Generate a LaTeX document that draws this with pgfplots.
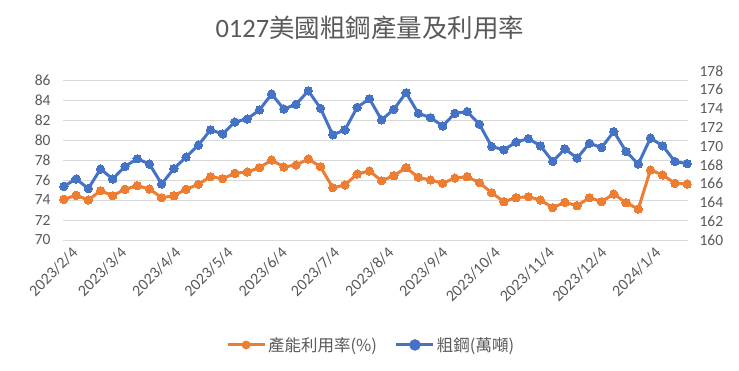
\documentclass[border=0pt]{standalone}
\usepackage{fontspec}
\setmainfont{Carlito}
\newfontfamily\cjk{Noto Sans CJK TC}
\usepackage{pgfplots}
\pgfplotsset{compat=1.18}
\definecolor{cOr}{HTML}{ED7D31}
\definecolor{cBl}{HTML}{4472C4}
\definecolor{cTx}{HTML}{595959}
\definecolor{cGr}{HTML}{D9D9D9}
\begin{document}
\begin{tikzpicture}[x=1pt,y=1pt]
\useasboundingbox (-63,-130) rectangle (676,240);
\begin{axis}[
  at={(0,0)}, anchor=south west,
  scale only axis, width=625pt, height=169pt,
  xmin=-0.5, xmax=357.5,
  ymin=70, ymax=86.9,
  ytick={70,72,...,86},
  xtick={0,28,59,89,120,150,181,212,242,273,303,334},
  xticklabels={2023/2/4,2023/3/4,2023/4/4,2023/5/4,2023/6/4,2023/7/4,2023/8/4,2023/9/4,2023/10/4,2023/11/4,2023/12/4,2024/1/4},
  xticklabel style={rotate=45, anchor=east, xshift=4pt, yshift=-15pt, font=\fontsize{16}{19}\selectfont},
  yticklabel style={xshift=-9pt},
  /pgf/number format/assume math mode=true,
  tick label style={font=\fontsize{15.5}{18}\selectfont, text=cTx},
  major tick length=0pt,
  axis line style={draw=none},
  ymajorgrids, grid style={cGr, line width=0.8pt},
  title={{\fontsize{26.5}{30}\selectfont 0127}{\cjk\fontsize{25.5}{30}\selectfont 美國粗鋼產量及利用率}},
  title style={at={(0.491,1.22)}, anchor=center, text=cTx},
]
\addplot[cOr, line width=3pt, mark=*, mark size=4.2pt, mark options={fill=cOr, draw=cOr, line width=0pt}] coordinates {
(0,74.07)(7,74.47)(14,74.0)(21,74.93)(28,74.43)(35,75.07)(42,75.43)(49,75.1)(56,74.23)(63,74.43)
(70,75.07)(77,75.57)(84,76.33)(91,76.13)(98,76.67)(105,76.8)(112,77.23)(119,78.0)(126,77.3)(133,77.5)
(140,78.1)(147,77.33)(154,75.23)(161,75.5)(168,76.6)(175,76.9)(182,75.93)(189,76.43)(196,77.23)(203,76.27)
(210,76.0)(217,75.67)(224,76.2)(231,76.33)(238,75.73)(245,74.73)(252,73.83)(259,74.23)(266,74.33)(273,74.0)
(280,73.23)(287,73.77)(294,73.43)(301,74.23)(308,73.83)(315,74.6)(322,73.73)(329,73.1)(336,77.0)(343,76.5)
(350,75.67)(357,75.6)
};
\end{axis}
\begin{axis}[
  at={(0,0)}, anchor=south west,
  scale only axis, width=625pt, height=169pt,
  xmin=-0.5, xmax=357.5,
  ymin=160, ymax=178,
  ytick={160,162,...,178},
  hide x axis,
  axis y line*=right,
  axis line style={draw=none},
  major tick length=0pt,
  yticklabel style={xshift=8pt, anchor=west},
  /pgf/number format/assume math mode=true,
  tick label style={font=\fontsize{15.5}{18}\selectfont, text=cTx},
  legend style={at={(0.493,-0.621)}, anchor=center, draw=none, fill=none,
    font=\cjk\fontsize{16.5}{19}\selectfont, text=cTx, legend columns=2,
    /tikz/every even column/.append style={column sep=16pt}},
  legend image code/.code={
    \draw[#1, line width=3pt] (0pt,0pt) -- (37pt,0pt);
    \fill[#1] (18.5pt,0pt) circle (4.2pt);
  },
]
\addlegendimage{cOr}
\addlegendentry{產能利用率(\%)}
\addplot[cBl, line width=3pt, mark=*, mark size=4.2pt, mark options={fill=cBl, draw=cBl, line width=0pt}] coordinates {
(0,165.72)(7,166.5)(14,165.48)(21,167.56)(28,166.5)(35,167.84)(42,168.65)(49,168.09)(56,165.97)(63,167.6)
(70,168.83)(77,170.1)(84,171.73)(91,171.3)(98,172.57)(105,172.89)(112,173.85)(119,175.54)(126,173.95)(133,174.45)
(140,175.89)(147,174.03)(154,171.2)(161,171.73)(168,174.13)(175,175.04)(182,172.79)(189,173.92)(196,175.68)(203,173.5)
(210,173.03)(217,172.15)(224,173.5)(231,173.67)(238,172.33)(245,169.96)(252,169.6)(259,170.42)(266,170.8)(273,170.03)
(280,168.37)(287,169.71)(294,168.72)(301,170.3)(308,169.85)(315,171.55)(322,169.43)(329,168.09)(336,170.85)(343,170.03)
(350,168.37)(357,168.13)
};
\addlegendentry{粗鋼(萬噸)}
\end{axis}
\end{tikzpicture}
\end{document}
